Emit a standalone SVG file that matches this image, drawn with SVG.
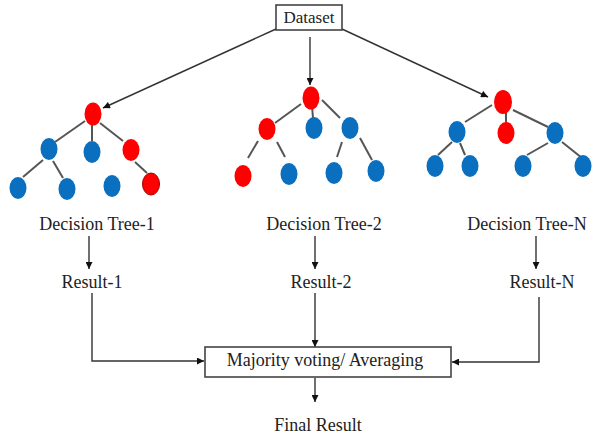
<svg xmlns="http://www.w3.org/2000/svg" width="592" height="436" viewBox="0 0 592 436">
<style>
.t{font-family:"Liberation Serif","Times New Roman",serif;font-size:18px;fill:#222;text-anchor:middle}
.box{fill:#fff;stroke:#444;stroke-width:1.6}
.c{stroke:#333;stroke-width:1.4;fill:none}
.e{stroke:#555;stroke-width:2;fill:none}
.r{fill:#ff0000}
.b{fill:#0b6fc0}
</style>
<defs>
<marker id="ah" viewBox="0 0 10 10" refX="10" refY="5" markerWidth="8" markerHeight="7" markerUnits="userSpaceOnUse" orient="auto">
<path d="M0,0 L10,5 L0,10 z" fill="#111"/>
</marker>
</defs>
<rect width="592" height="436" fill="#fff"/>

<g id="connectors">
<line class="c" x1="276" y1="29" x2="103" y2="108" marker-end="url(#ah)"/>
<line class="c" x1="310" y1="37" x2="310" y2="85" marker-end="url(#ah)"/>
<line class="c" x1="342" y1="29" x2="488" y2="97" marker-end="url(#ah)"/>
<line class="c" x1="89" y1="236" x2="89" y2="269" marker-end="url(#ah)"/>
<line class="c" x1="315" y1="236" x2="315" y2="269" marker-end="url(#ah)"/>
<line class="c" x1="536" y1="236" x2="536" y2="269" marker-end="url(#ah)"/>
<polyline class="c" points="92,293 92,361 204,361" marker-end="url(#ah)"/>
<line class="c" x1="315" y1="293" x2="315" y2="347" marker-end="url(#ah)"/>
<polyline class="c" points="539,297 539,362 452,362" marker-end="url(#ah)"/>
<line class="c" x1="315" y1="378" x2="315" y2="402" marker-end="url(#ah)"/>
</g>

<g id="tree-edges">
<line class="e" x1="85" y1="121" x2="55" y2="142"/>
<line class="e" x1="92" y1="125" x2="92" y2="141"/>
<line class="e" x1="100" y1="123" x2="123" y2="141"/>
<line class="e" x1="43" y1="160" x2="23" y2="177"/>
<line class="e" x1="53" y1="161" x2="63" y2="178"/>
<line class="e" x1="135" y1="162" x2="147" y2="173"/>

<line class="e" x1="301" y1="104" x2="275" y2="123"/>
<line class="e" x1="312" y1="106" x2="313" y2="118"/>
<line class="e" x1="322" y1="100" x2="340" y2="118"/>
<line class="e" x1="258" y1="141" x2="248" y2="158"/>
<line class="e" x1="277" y1="142" x2="285" y2="157"/>
<line class="e" x1="342" y1="142" x2="337" y2="157"/>
<line class="e" x1="360" y1="138" x2="372" y2="160"/>

<line class="e" x1="492" y1="105" x2="465" y2="122"/>
<line class="e" x1="506" y1="110" x2="506" y2="122"/>
<line class="e" x1="513" y1="110" x2="548" y2="127"/>
<line class="e" x1="452" y1="142" x2="438" y2="155"/>
<line class="e" x1="460" y1="143" x2="465" y2="155"/>
<line class="e" x1="548" y1="143" x2="527" y2="155"/>
<line class="e" x1="562" y1="142" x2="582" y2="158"/>
</g>

<g id="dataset">
<rect class="box" x="276" y="5" width="66" height="25"/>
<text class="t" x="309" y="23" style="font-size:17px">Dataset</text>
</g>

<g id="tree-1">
<ellipse class="r" cx="93" cy="114" rx="8.5" ry="11.5"/>
<ellipse class="b" cx="49" cy="149" rx="8.5" ry="11"/>
<ellipse class="b" cx="92" cy="152" rx="8.5" ry="11"/>
<ellipse class="r" cx="131" cy="150" rx="8.5" ry="11"/>
<ellipse class="b" cx="18" cy="188" rx="8.5" ry="11"/>
<ellipse class="b" cx="67" cy="189" rx="8.5" ry="11"/>
<ellipse class="b" cx="112" cy="186" rx="8.5" ry="11"/>
<ellipse class="r" cx="151" cy="184" rx="8.5" ry="11" stroke="#a00000" stroke-width="1"/>
</g>

<g id="tree-2">
<ellipse class="r" cx="311" cy="98" rx="8.5" ry="11.5"/>
<ellipse class="r" cx="267" cy="129" rx="8.5" ry="11"/>
<ellipse class="b" cx="314" cy="128" rx="8.5" ry="11"/>
<ellipse class="b" cx="350" cy="128" rx="8.5" ry="11"/>
<ellipse class="r" cx="243" cy="176" rx="8.5" ry="11"/>
<ellipse class="b" cx="289" cy="174" rx="8.5" ry="11"/>
<ellipse class="b" cx="334" cy="173" rx="8.5" ry="11"/>
<ellipse class="b" cx="376" cy="171" rx="8.5" ry="11"/>
</g>

<g id="tree-n">
<ellipse class="r" cx="503" cy="102" rx="9" ry="12"/>
<ellipse class="b" cx="457" cy="132" rx="8.5" ry="11"/>
<ellipse class="r" cx="506" cy="133" rx="8.5" ry="11"/>
<ellipse class="b" cx="555" cy="133" rx="8.5" ry="11"/>
<ellipse class="b" cx="435" cy="166" rx="8.5" ry="11"/>
<ellipse class="b" cx="470" cy="166" rx="8.5" ry="11"/>
<ellipse class="b" cx="523" cy="166" rx="8.5" ry="11"/>
<ellipse class="b" cx="583" cy="166" rx="8.5" ry="11"/>
</g>

<g id="label-tree-1"><text class="t" x="97" y="230">Decision Tree-1</text></g>
<g id="label-tree-2"><text class="t" x="324" y="230">Decision Tree-2</text></g>
<g id="label-tree-n"><text class="t" x="527" y="230">Decision Tree-N</text></g>
<g id="result-1"><text class="t" x="92" y="288">Result-1</text></g>
<g id="result-2"><text class="t" x="321" y="288">Result-2</text></g>
<g id="result-n"><text class="t" x="542" y="288">Result-N</text></g>

<g id="majority">
<rect class="box" x="205" y="347" width="246" height="30"/>
<text class="t" x="325" y="366">Majority voting/ Averaging</text>
</g>
<g id="final"><text class="t" x="318" y="431">Final Result</text></g>
</svg>
